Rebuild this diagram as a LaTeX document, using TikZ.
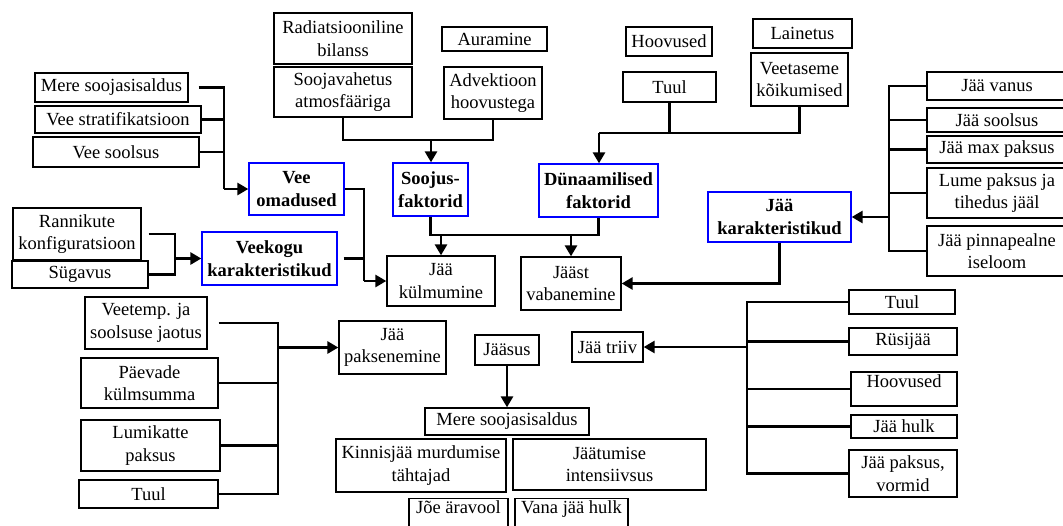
\documentclass[tikz,border=0pt]{standalone}
\usepackage{fontspec}
\setmainfont{Liberation Serif}
\usetikzlibrary{arrows.meta}
\begin{document}
\begin{tikzpicture}[x=1pt,y=-1pt,
  box/.style={draw=black, line width=1.3pt, inner sep=0pt, align=center, font=\fontsize{18.5}{22.5}\selectfont},
  bbox/.style={box, draw=blue, font=\fontsize{18.5}{23}\selectfont\bfseries},
  ln/.style={line width=2.8pt},
  arr/.style={line width=2.8pt, -{Triangle[length=11pt,width=12pt]}}]
\useasboundingbox (0,0) rectangle (1063,525);
\clip (0,0) rectangle (1063,525);
% top row
\node[box, minimum width=138, minimum height=51] (rad) at (343,38.5) {Radiatsiooniline\\bilanss};
\node[box, minimum width=138, minimum height=50] (soo) at (343,92) {Soojavahetus\\atmosfääriga};
\node[box, minimum width=105, minimum height=24] (aur) at (494.5,39) {Auramine};
\node[box, minimum width=98, minimum height=52] (adv) at (493,93) {Advektioon\\hoovustega};
\node[box, minimum width=86, minimum height=29] (hoo1) at (669,41.5) {Hoovused};
\node[box, minimum width=93, minimum height=30] (tuul1) at (669.5,87) {Tuul};
\node[box, minimum width=99, minimum height=29] (lai) at (802.5,33.5) {Lainetus};
\node[box, minimum width=97, minimum height=53] (vee) at (799.5,79.5) {Veetaseme\\kõikumised};
% left
\node[box, minimum width=153, minimum height=29] (mere1) at (111.5,87.5) {Mere soojasisaldus};
\node[box, minimum width=166, minimum height=27] (strat) at (118,119.5) {Vee stratifikatsioon};
\node[box, minimum width=166, minimum height=30] (vsool) at (116,152) {Vee soolsus};
\node[bbox, minimum width=95, minimum height=52] (vom) at (296.5,189) {Vee\\omadused};
\node[bbox, minimum width=75, minimum height=53] (sf) at (430.5,189.5) {Soojus-\\faktorid};
\node[bbox, minimum width=119, minimum height=53] (dyn) at (598.5,190.5) {Dünaamilised\\faktorid};
\node[box, minimum width=128, minimum height=52] (ran) at (77,234) {Rannikute\\konfiguratsioon};
\node[box, minimum width=136, minimum height=27] (syg) at (80,274.5) {Sügavus};
\node[bbox, minimum width=135, minimum height=53] (vkk) at (269.5,258.5) {Veekogu\\karakteristikud};
\node[box, minimum width=108, minimum height=50] (jkul) at (441,281) {Jää\\külmumine};
\node[box, minimum width=100, minimum height=53] (jvab) at (571,283.5) {Jääst\\vabanemine};
\node[bbox, minimum width=143, minimum height=50] (jk) at (779.5,217) {Jää\\karakteristikud};
% right column
\node[box, minimum width=140, minimum height=28] (jvan) at (997,86) {Jää vanus};
\node[box, minimum width=140, minimum height=24] (jsool) at (997,120) {Jää soolsus};
\node[box, minimum width=140, minimum height=27] (jmax) at (997,149.5) {Jää max paksus};
\node[box, minimum width=140, minimum height=50] (lume) at (997,193) {Lume paksus ja\\tihedus jääl};
\node[box, minimum width=140, minimum height=50] (pinn) at (997,251) {Jää pinnapealne\\iseloom};
% lower left
\node[box, minimum width=122, minimum height=52] (veet) at (146,323) {Veetemp. ja\\soolsuse jaotus};
\node[box, minimum width=137, minimum height=50] (paev) at (149.5,383) {Päevade\\külmsumma};
\node[box, minimum width=139, minimum height=51] (lumi) at (150.5,445.5) {Lumikatte\\paksus};
\node[box, minimum width=139, minimum height=28] (tuul2) at (148.5,494) {Tuul};
\node[box, minimum width=107, minimum height=53] (jpak) at (392.5,347.5) {Jää\\paksenemine};
% lower middle
\node[box, minimum width=64, minimum height=30] (jsus) at (507,350) {Jääsus};
\node[box, minimum width=71, minimum height=30] (jtr) at (607.5,347) {Jää triiv};
\node[box, minimum width=164, minimum height=27] (mere2) at (507,421.5) {Mere soojasisaldus};
\node[box, minimum width=170, minimum height=53] (kin) at (421,465.5) {Kinnisjää murdumise\\tähtajad};
\node[box, minimum width=193, minimum height=51] (jaat) at (609.5,464.5) {Jäätumise\\intensiivsus};
\node[box, minimum width=99, minimum height=36, text height=13pt, text depth=19pt, anchor=north] (joe) at (458.5,498) {Jõe äravool};
\node[box, minimum width=113, minimum height=36, text height=13pt, text depth=19pt, anchor=north] (vana) at (571.5,498) {Vana jää hulk};
% lower right
\node[box, minimum width=106, minimum height=24] (tuul3) at (902,302) {Tuul};
\node[box, minimum width=108, minimum height=27] (rys) at (903,341.5) {Rüsijää};
\node[box, minimum width=106, minimum height=34, text height=13pt, text depth=16pt] (hoo2) at (904,389) {Hoovused};
\node[box, minimum width=106, minimum height=23] (jhulk) at (904,426.5) {Jää hulk};
\node[box, minimum width=108, minimum height=47] (jpv) at (903,473.5) {Jää paksus,\\vormid};
% junctions
\coordinate (a1) at (224,189);
\coordinate (b1) at (431,140);
\coordinate (c1) at (599,133);
\coordinate (d1) at (0,235);
\coordinate (e1) at (364,281);
\coordinate (f1) at (175,258.5);
\coordinate (g1) at (889,217);
\coordinate (h1) at (278,347.5);
\coordinate (k1) at (747,347);
% connectors: water properties
\draw[ln] ([xshift=10pt]mere1.east) -| (a1);
\draw[ln] (strat.east) -- (strat.east -| a1);
\draw[ln] (vsool.east) -- (vsool.east -| a1);
\draw[arr] (a1) -- (vom.west);
% heat factors
\draw[ln] (soo.south) |- (b1) -| (adv.south);
\draw[arr] (b1) -- (b1 |- sf.north);
% dynamic factors
\draw[ln] (tuul1.south) |- (c1);
\draw[ln] (vee.south) |- (c1);
\draw[arr] (c1) -- (c1 |- dyn.north);
% factors to freezing / break-up
\draw[ln] (sf.south) |- (dyn.south |- d1) -- (dyn.south);
\draw[arr] (jkul.north |- d1) -- (jkul.north);
\draw[arr] (jvab.north |- d1) -- (jvab.north);
% water props and basin to freezing
\draw[ln] (vom.east) -| (e1);
\draw[ln] ([xshift=6pt]vkk.east) -- (vkk.east -| e1);
\draw[arr] (e1) -- (jkul.west);
% basin characteristics
\draw[ln] ([xshift=7pt]ran.east) -| (f1);
\draw[ln] (syg.east) -| (f1);
\draw[arr] (f1) -- (vkk.west);
% ice characteristics
\draw[ln] (jvan.west) -| (pinn.west -| g1) -- (pinn.west);
\draw[ln] (jsool.west) -- (jsool.west -| g1);
\draw[ln] (jmax.west) -- (jmax.west -| g1);
\draw[ln] (lume.west) -- (lume.west -| g1);
\draw[arr] (g1) -- (jk.east);
\draw[arr] (jk.south) |- (jvab.east);
% thickening
\draw[ln] ([xshift=11pt]veet.east) -| (tuul2.east -| h1) -- (tuul2.east);
\draw[ln] (paev.east) -- (paev.east -| h1);
\draw[ln] (lumi.east) -- (lumi.east -| h1);
\draw[arr] (h1) -- (jpak.west);
% ice conditions
\draw[arr] (jsus.south) -- (jsus.south |- mere2.north);
% drift
\draw[ln] (tuul3.west) -| (jpv.west -| k1) -- (jpv.west);
\draw[ln] (rys.west) -- (rys.west -| k1);
\draw[ln] (hoo2.west) -- (hoo2.west -| k1);
\draw[ln] (jhulk.west) -- (jhulk.west -| k1);
\draw[arr] (k1) -- (jtr.east);
\end{tikzpicture}
\end{document}
